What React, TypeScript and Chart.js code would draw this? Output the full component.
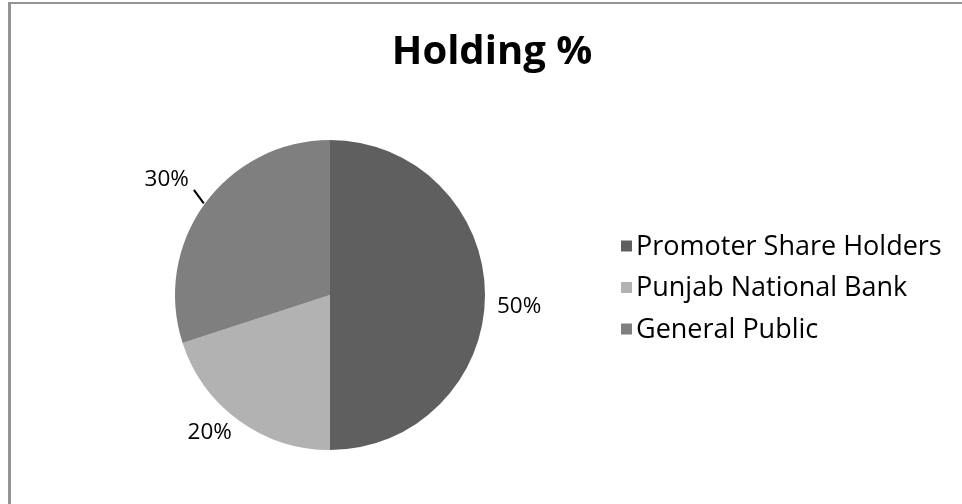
import React, { useEffect, useRef } from "react";
import { Chart, registerables } from "chart.js";

Chart.register(...registerables);

const titleText = "Holding %";
const categories = ["Promoter Share Holders", "Punjab National Bank", "General Public"];
const holdingValues = [50, 20, 30];
const sliceColors = ["#5f5f5f", "#b2b2b2", "#7f7f7f"];
const useLeader = [false, false, true];

const FONT = "'Open Sans', sans-serif";

const overlayPlugin = {
  id: "overlay",
  afterDraw(chart: any) {
    const ctx = chart.ctx as CanvasRenderingContext2D;
    const meta = chart.getDatasetMeta(0);
    const data = chart.data.datasets[0].data as number[];
    const total = data.reduce((a, b) => a + b, 0);
    ctx.save();
    // Title
    ctx.fillStyle = "#000";
    ctx.font = `bold 40px ${FONT}`;
    ctx.textAlign = "center";
    ctx.textBaseline = "middle";
    ctx.fillText(titleText, 492, 53);

    // Data labels
    ctx.font = `22.5px ${FONT}`;
    meta.data.forEach((arc: any, i: number) => {
      const p = arc.getProps(["x", "y", "startAngle", "endAngle", "outerRadius"], true);
      const mid = (p.startAngle + p.endAngle) / 2;
      const dx = Math.cos(mid);
      const dy = Math.sin(mid);
      const R = p.outerRadius;
      const txt = Math.round((data[i] / total) * 100) + "%";
      const w = ctx.measureText(txt).width;
      const h = 17;
      if (useLeader[i]) {
        const x1 = p.x + dx * (R + 1);
        const y1 = p.y + dy * (R + 1);
        const x2 = p.x + dx * (R + 17) + 3;
        const y2 = p.y + dy * (R + 17) - 4;
        ctx.strokeStyle = "#000";
        ctx.lineWidth = 2;
        ctx.beginPath();
        ctx.moveTo(x1, y1);
        ctx.lineTo(x2, y2);
        ctx.stroke();
        ctx.textAlign = "center";
        ctx.fillText(txt, x2 + Math.sign(dx) * (w / 2 + 5), y2 + Math.sign(dy) * (h / 2 + 2));
      } else {
        const ax = p.x + dx * (R + 12);
        const ay = p.y + dy * (R + 12);
        const sx = Math.abs(dx) < 0.2 ? 0 : Math.sign(dx);
        const sy = Math.abs(dy) < 0.2 ? 0 : Math.sign(dy);
        ctx.textAlign = "center";
        ctx.fillText(txt, ax + sx * w / 2, ay + sy * h / 2 + (sy === 0 ? 12 : -6));
      }
    });

    // Legend
    ctx.font = `27px ${FONT}`;
    ctx.textAlign = "left";
    categories.forEach((c, i) => {
      const cy = 246 + i * 41.5;
      ctx.fillStyle = sliceColors[i];
      ctx.fillRect(621, cy - 5.5, 11, 11);
      ctx.fillStyle = "#000";
      ctx.fillText(c, 636, cy + 1);
    });
    ctx.restore();
  },
};

export default function App() {
  const ref = useRef<HTMLCanvasElement | null>(null);
  useEffect(() => {
    if (!ref.current) return;
    const chart = new Chart(ref.current, {
      type: "pie",
      data: {
        labels: categories,
        datasets: [
          {
            data: holdingValues,
            backgroundColor: sliceColors,
            borderWidth: 0,
            hoverOffset: 0,
            offset: 0,
          },
        ],
      },
      options: {
        responsive: false,
        animation: false,
        events: [],
        layout: { padding: { left: 175, right: 477, top: 140, bottom: 54 } },
        plugins: {
          legend: { display: false },
          title: { display: false },
          tooltip: { enabled: false },
        },
      },
      plugins: [overlayPlugin],
    });
    return () => chart.destroy();
  }, []);

  return (
    <div
      style={{
        position: "fixed",
        left: 0,
        top: 0,
        width: 962,
        height: 504,
        overflow: "hidden",
        background: "#fff",
      }}
    >
      <div
        style={{
          position: "absolute",
          left: 8,
          top: 2,
          width: 2000,
          height: 2000,
          borderLeft: "3px solid #939393",
          borderTop: "2px solid #939393",
        }}
      />
      <canvas
        ref={ref}
        width={962}
        height={504}
        style={{ position: "absolute", left: 0, top: 0, width: 962, height: 504 }}
      />
    </div>
  );
}
